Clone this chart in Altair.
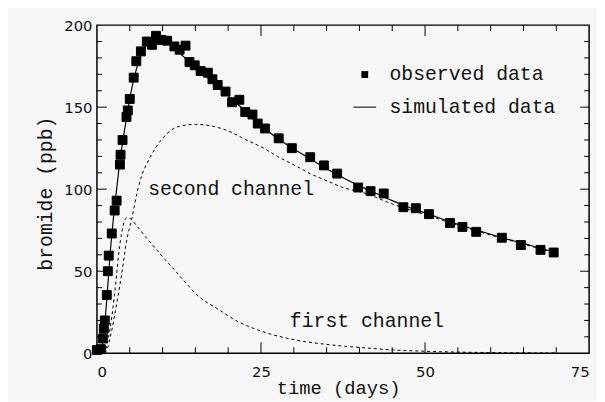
import altair as alt
import pandas as pd

# observed data (time in days, bromide ppb)
obs_t = [0.0, 0.6, 0.9, 1.05, 1.2, 1.5, 1.66, 1.8, 2.26, 2.7, 3.0, 3.5, 3.6, 3.9, 4.5, 4.7,
         5.0, 5.6, 6.0, 6.7, 7.6, 8.4, 9.0, 9.8, 10.7, 11.8, 12.6, 13.5, 14.1, 14.9, 15.8,
         16.9, 17.6, 18.4, 19.6, 20.6, 21.7, 22.6, 23.7, 24.5, 25.6, 27.7, 29.7, 32.5, 34.6,
         36.6, 39.8, 41.7, 43.7, 46.7, 48.6, 50.6, 53.8, 55.7, 57.8, 61.7, 64.6, 67.6, 69.6]
obs_y = [2, 2.5, 9, 15, 20, 35.5, 50, 59.5, 73, 87, 93, 115, 121, 130, 144, 148,
         155, 168, 178, 184, 190, 188, 193.5, 191, 190.5, 187, 185, 187.5, 177.5, 175.5, 172,
         171, 167, 163.5, 159.5, 153, 154.5, 147, 145.5, 140, 137, 131, 125, 119.5, 114.5,
         109.5, 101, 98.8, 97.4, 89, 88.4, 84.8, 79.4, 77, 74, 70.4, 66, 63, 61.4]

# simulated total (solid line)
sim_t = [0, 0.5, 1, 1.5, 2, 2.5, 3, 3.5, 4, 4.5, 5, 6, 7, 8, 9, 10, 11, 12, 13, 14, 15, 17,
         20, 22.5, 25, 27.5, 30, 32.5, 35, 37.5, 40, 42.5, 45, 47.5, 50, 52.5, 55, 57.5, 60,
         62.5, 65, 67.5, 70]
sim_y = [0, 1, 10, 33, 60, 82, 100, 117, 131, 143, 155, 173, 184, 190, 192, 191, 188.5, 185,
         181.5, 178, 174.5, 167.5, 157, 148, 139, 131, 124.5, 118.5, 112.5, 107, 102, 97.5,
         93, 89, 85.5, 82, 78.5, 75.5, 72.5, 69.5, 67, 64, 61.5]

# first channel (dashed)
ch1_t = [0.8, 1.2, 1.5, 2, 2.6, 3, 3.3, 3.8, 4.5, 5.1, 6, 7.4, 8.9, 10.4, 12, 13.4, 15.4,
         18.4, 21.4, 25.4, 30.4, 35.4, 40.5, 45, 50, 55, 60, 65, 70]
ch1_y = [0, 1, 5, 15, 33, 48, 60, 74, 82.5, 82, 78, 71, 64, 57, 50, 43.5, 35,
         27, 19.5, 13, 8, 5.2, 3.4, 2, 1.2, 0.7, 0.4, 0.2, 0.1]

# second channel (dashed)
ch2_t = [1.2, 1.6, 2.1, 3, 3.8, 4.5, 5.3, 6.3, 6.8, 7.8, 8.9, 10, 12.3, 15, 17.5, 20.3, 22.5,
         25.4, 27.5, 30.4, 32.5, 35.4, 37.5, 40.5, 45, 50, 55, 60, 65, 70]
ch2_y = [0, 3, 11, 30, 49, 68, 82, 101, 108, 117, 125, 131, 138, 139.5, 138.5, 135, 130.5,
         125, 120, 114, 109.5, 104.5, 101, 98, 91, 84.5, 78, 72, 66.5, 61]

# axis tick values
x_labels = [0, 25, 50, 75]
y_labels = [0, 50, 100, 150, 200]
x_major = [25, 50]
x_minor = [5, 10, 15, 20, 30, 35, 40, 45, 55, 60, 65, 70]
y_major = [50, 100, 150]
y_minor = [10, 20, 30, 40, 60, 70, 80, 90, 110, 120, 130, 140, 160, 170, 180, 190]

# annotations
ann_text = ["second channel", "first channel"]
ann_t = [7.8, 29.4]
ann_y = [96.2, 16.2]

series_names = ["observed data", "simulated data"]

W, H = 498, 332
MONO = "Liberation Mono"
SANS = "DejaVu Sans"

xs = alt.Scale(domain=[0, 75], nice=False, zero=False)
ys = alt.Scale(domain=[0, 200], nice=False)

x_axis = alt.Axis(values=x_labels, ticks=False, tickSize=0, domain=False, grid=False,
                  labelPadding=12, labelFont=SANS, labelFontSize=15, labelColor="#111",
                  labelFontWeight="normal", format="d",
                  titleFont=MONO, titleFontSize=19, titleFontWeight="normal", titleColor="#111",
                  titleBaseline="middle", titleY=35, titleX=244)
y_axis = alt.Axis(values=y_labels, ticks=False, tickSize=0, domain=False, grid=False,
                  labelPadding=5, labelFont=SANS, labelFontSize=15, labelColor="#111",
                  format="d",
                  titleFont=MONO, titleFontSize=20, titleFontWeight="normal", titleColor="#111",
                  titleBaseline="middle", titleX=-52, titleY=170)


def X(field):
    return alt.X(field, type="quantitative", scale=xs, axis=x_axis, title="time (days)")


def Y(field):
    return alt.Y(field, type="quantitative", scale=ys, axis=y_axis, title="bromide (ppb)")


obs_df = pd.DataFrame({"t": obs_t, "y": obs_y, "series": series_names[0]})
sim_df = pd.DataFrame({"t": sim_t, "y": sim_y})
ch1_df = pd.DataFrame({"t": ch1_t, "y": ch1_y})
ch2_df = pd.DataFrame({"t": ch2_t, "y": ch2_y})
ann_df = pd.DataFrame({"t": ann_t, "y": ann_y, "label": ann_text})

SQUARE = "M-0.3,-0.3H0.3V0.3H-0.3Z"
LINE = "M-1,-0.045H1V0.045H-1Z"

dash = [3, 3]
ch1 = alt.Chart(ch1_df).mark_line(color="black", strokeWidth=1, strokeDash=dash,
                                  interpolate="monotone").encode(x=X("t"), y=Y("y"))
ch2 = alt.Chart(ch2_df).mark_line(color="black", strokeWidth=1, strokeDash=dash,
                                  interpolate="monotone").encode(x=X("t"), y=Y("y"))
sim = alt.Chart(sim_df).mark_line(color="black", strokeWidth=1.2,
                                  interpolate="monotone").encode(x=X("t"), y=Y("y"))

points = alt.Chart(obs_df).mark_point(filled=True, size=900, opacity=1, color="black",
                                      stroke="black", strokeWidth=1).encode(
    x=X("t"), y=Y("y"),
    shape=alt.Shape("series:N",
                    scale=alt.Scale(domain=series_names, range=[SQUARE, LINE]),
                    legend=alt.Legend(title=None, orient="none", legendX=259, legendY=38,
                                      symbolSize=529, symbolStrokeColor="black",
                                      symbolFillColor="black", symbolStrokeWidth=0.5,
                                      labelFont=MONO, labelFontSize=20, labelColor="#111",
                                      labelLimit=400,
                                      labelOffset=13, rowPadding=11, padding=0)))

text = alt.Chart(ann_df).mark_text(font=MONO, fontSize=20, align="left", baseline="alphabetic",
                                   color="#111").encode(x=X("t"), y=Y("y"), text="label:N")


def vticks(vals, top, length):
    df = pd.DataFrame({"v": vals})
    y0 = 0 if top else H
    y1 = length if top else H - length
    return alt.Chart(df).mark_rule(color="black", strokeWidth=1).encode(
        x=X("v"), y=alt.value(y0), y2=alt.value(y1))


def hticks(vals, left, length):
    df = pd.DataFrame({"v": vals})
    x0 = 0 if left else W
    x1 = length if left else W - length
    return alt.Chart(df).mark_rule(color="black", strokeWidth=1).encode(
        y=Y("v"), x=alt.value(x0), x2=alt.value(x1))


ticks = [
    vticks(x_major, False, 11), vticks(x_minor, False, 6),
    vticks(x_major, True, 11), vticks(x_minor, True, 6),
    hticks(y_major, True, 10), hticks(y_minor, True, 5),
    hticks(y_major, False, 9), hticks(y_minor, False, 5),
]

chart = alt.layer(ch1, ch2, sim, *ticks, points, text).properties(
    width=W, height=H,
    padding={"left": 90, "top": 15, "right": 8, "bottom": 46},
    autosize=alt.AutoSizeParams(type="none"),
    background="#f7f7f7",
).configure_view(stroke="black", strokeWidth=1.5)

chart.save("out.html", embed_options={"renderer": "svg", "actions": False})
